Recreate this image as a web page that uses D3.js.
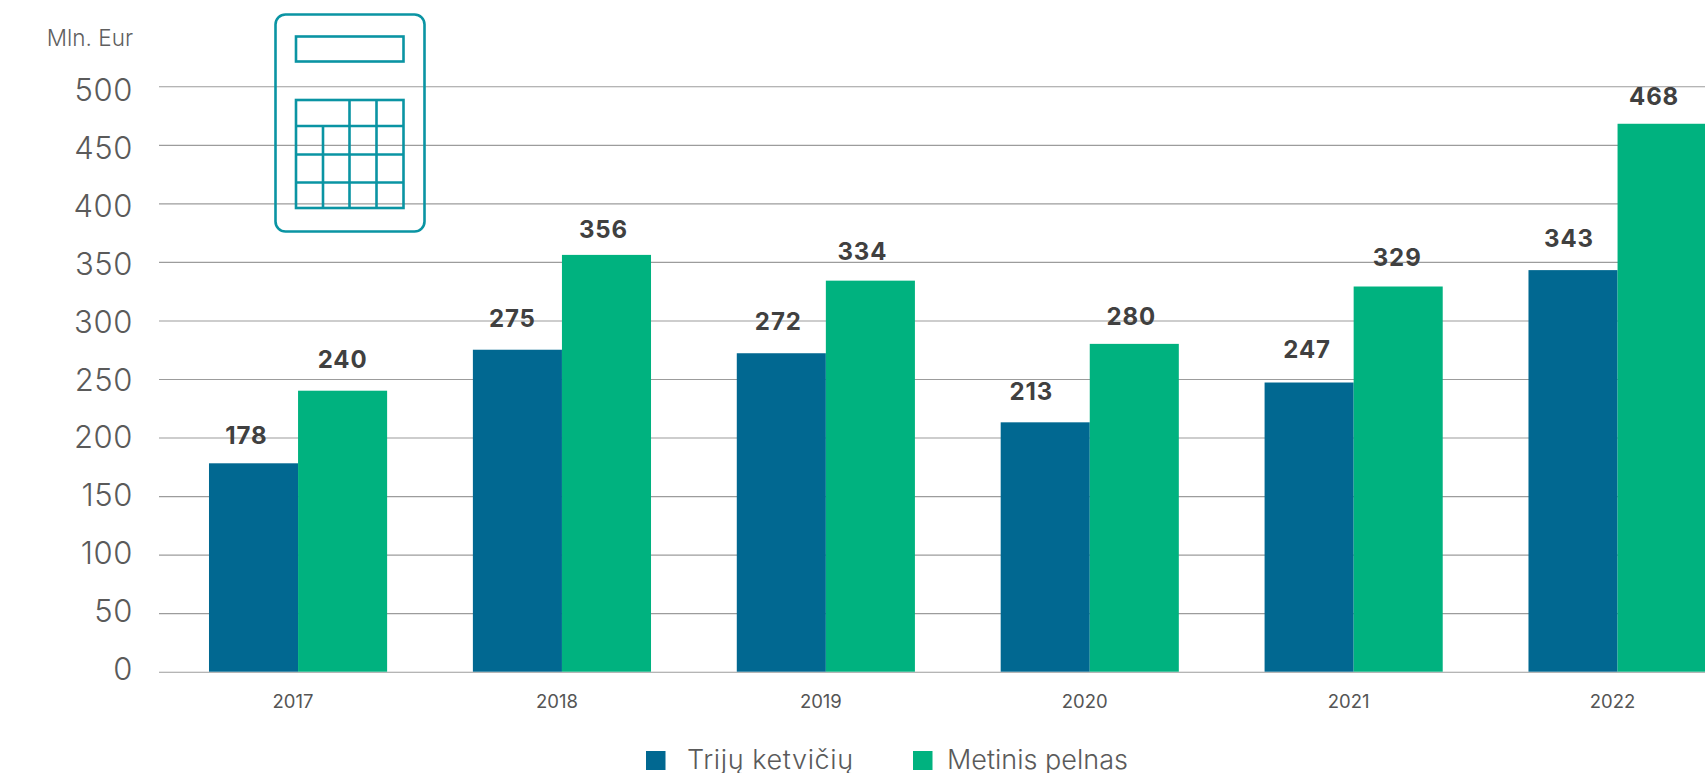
<!DOCTYPE html>
<html><head><meta charset="utf-8">
<script src="https://cdn.jsdelivr.net/npm/d3@7/dist/d3.min.js"></script>
<style>html,body{margin:0;background:#fff;overflow:hidden}svg{display:block}text{font-family:Inter,Lato,sans-serif}</style>
</head><body><svg id="c" width="1705" height="773"></svg>
<script>
const years=["2017","2018","2019","2020","2021","2022"];
const trijuKetviciu=[178,275,272,213,247,343];
const metinisPelnas=[240,356,334,280,329,468];
const yTicks=[0,50,100,150,200,250,300,350,400,450,500];
const seriesNames=["Trijų ketvičių","Metinis pelnas"];
const colors=["#016891","#00b27f"];
const unit="Mln. Eur";
// hand placement of the value labels as drawn in the reference: [dx, dy]
const nudgeA=[[-7,0],[-5,-4],[-3,-4],[-14,-3],[-2,-6],[-4,-4]];
const nudgeB=[[0,-4],[-3,2],[-8,-2],[-3,0],[-1,-2],[-8,0]];

const W=1705,H=773;
const svg=d3.select("#c");
const x=d3.scaleBand().domain(years).range([166.1,1749.5]).paddingInner(.325).paddingOuter(.1625);
const x1=d3.scaleBand().domain([0,1]).range([0,x.bandwidth()]);
const y=d3.scaleLinear().domain([0,500]).range([671.7,86.3]);
// the reference's axis numbers sit on a slightly tighter spacing than its gridlines
const yLabel=d3.scaleLinear().domain([0,500]).range([668.3,89.5]);

const gy=svg.append("g").attr("transform","translate(159,0)")
  .call(d3.axisLeft(y).tickValues(yTicks).tickSize(-(W-159)).tickPadding(26).tickFormat(d3.format("d")));
gy.select(".domain").remove();
gy.selectAll("line").attr("stroke","#9c9c9c").attr("stroke-width",1.1);
gy.selectAll("text").attr("fill","#5a5a5a").style("font-size","31px").style("font-weight",300)
  .style("letter-spacing","0.6px").attr("dy","0.36em").attr("y",d=>yLabel(d)-y(d));

svg.append("text").attr("x",133).attr("y",46).attr("text-anchor","end").attr("fill","#5f5f5f")
  .style("font-size","22.5px").style("font-weight",300).text(unit);

[trijuKetviciu,metinisPelnas].forEach((vals,s)=>{
  svg.append("g").selectAll("rect").data(vals).join("rect")
    .attr("x",(d,i)=>x(years[i])+x1(s)).attr("width",x1.bandwidth())
    .attr("y",d=>y(d)).attr("height",d=>y(0)-y(d)).attr("fill",colors[s]);
  const nudge=s?nudgeB:nudgeA;
  svg.append("g").selectAll("text").data(vals).join("text")
    .attr("x",(d,i)=>x(years[i])+x1(s)+x1.bandwidth()/2+nudge[i][0])
    .attr("y",(d,i)=>y(d)-19+nudge[i][1])
    .attr("text-anchor","middle").attr("fill","#404040")
    .style("font-size","24px").style("letter-spacing","0.9px").style("font-weight",700).text(d=>d);
});

const gx=svg.append("g").attr("transform","translate(-5,671.7)")
  .call(d3.axisBottom(x).tickSize(0).tickPadding(23));
gx.select(".domain").remove();
gx.selectAll("text").attr("fill","#555").style("font-size","18.5px").style("font-weight",400);

// calculator icon
const ic=svg.append("g").attr("fill","none").attr("stroke","#0a94a3").attr("stroke-width",2.6);
ic.append("rect").attr("x",275.5).attr("y",14.5).attr("width",149).attr("height",217).attr("rx",10);
ic.append("rect").attr("x",296).attr("y",36.5).attr("width",107.5).attr("height",25);
ic.append("rect").attr("x",296).attr("y",100).attr("width",107.5).attr("height",108);
[126,154.5,182.5].forEach(v=>ic.append("line").attr("x1",296).attr("x2",403.5).attr("y1",v).attr("y2",v));
ic.append("line").attr("x1",323).attr("x2",323).attr("y1",126).attr("y2",208);
[349.5,376.5].forEach(v=>ic.append("line").attr("x1",v).attr("x2",v).attr("y1",100).attr("y2",208));

// legend
const lx=[646,913], tx=[687,947], ls=[0.6,0];
seriesNames.forEach((n,i)=>{
  svg.append("rect").attr("x",lx[i]).attr("y",751).attr("width",19.5).attr("height",19).attr("fill",colors[i]);
  svg.append("text").attr("x",tx[i]).attr("y",769).attr("fill","#5a5a5a")
    .style("font-size","27px").style("letter-spacing",ls[i]+"px").style("font-weight",300).text(n);
});
</script></body></html>
